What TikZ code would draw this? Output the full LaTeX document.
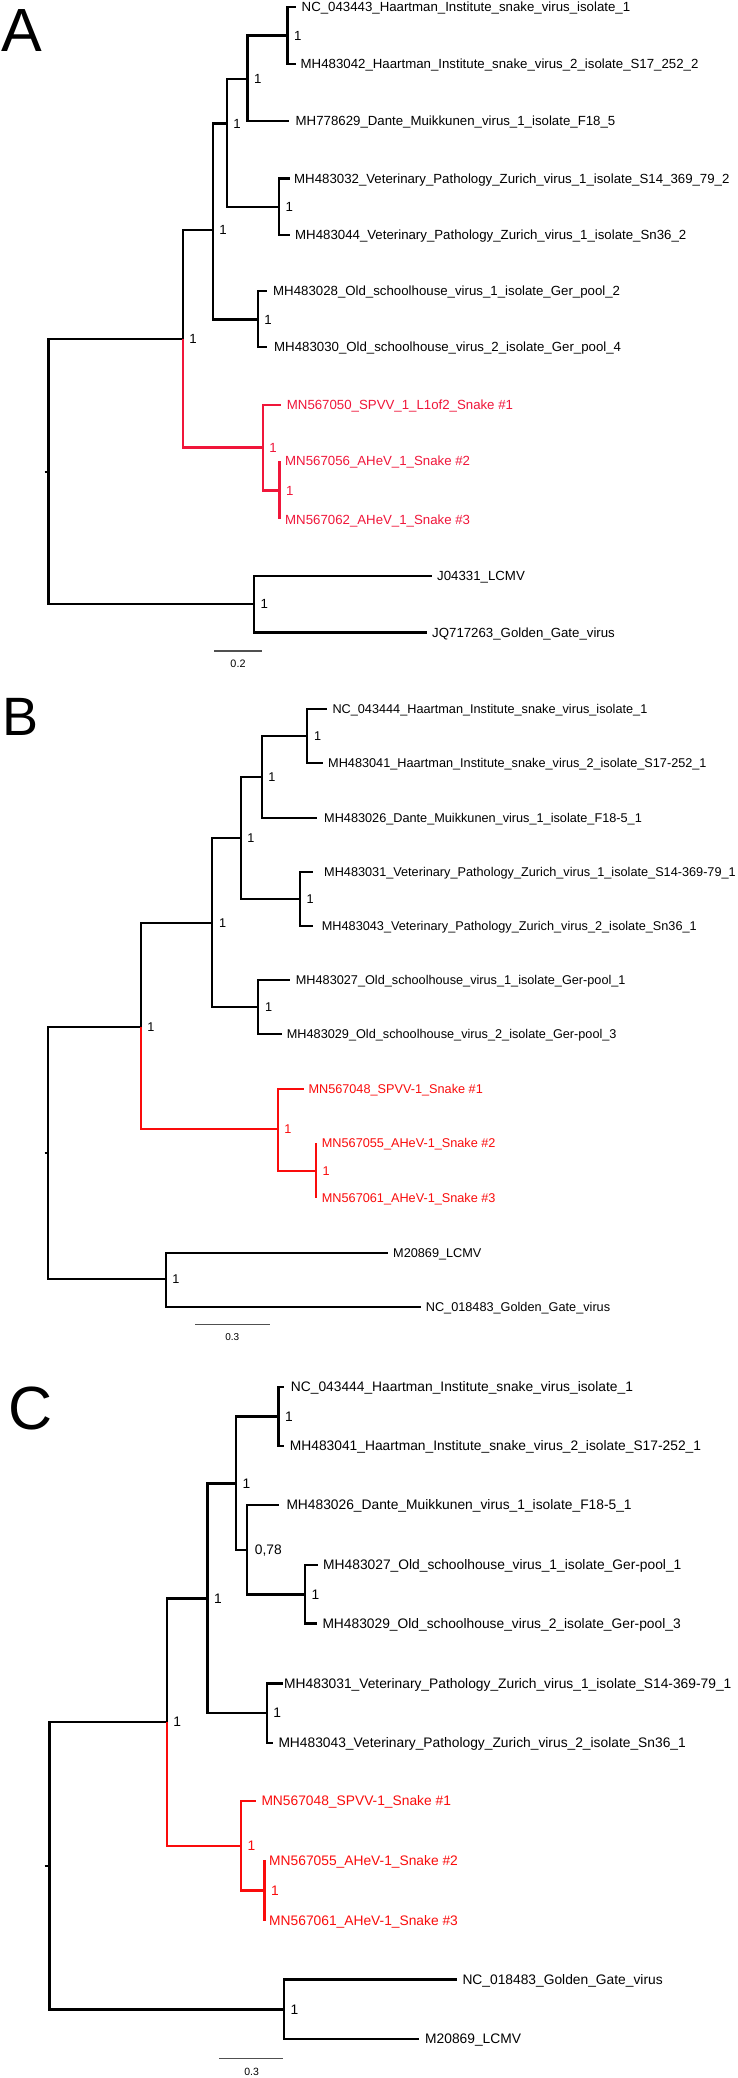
\documentclass[tikz,border=0pt]{standalone}
\usepackage{fontspec}
\setmainfont{Liberation Sans}
\definecolor{redA}{RGB}{240,22,58}
\definecolor{redBC}{RGB}{250,12,12}
\definecolor{sbar}{RGB}{80,80,80}
\tikzset{
  branch/.style={line width=2.4pt, line join=miter, line cap=butt},
  tiplab/.style={anchor=west, inner sep=0pt, text depth=0pt},
  suplab/.style={anchor=west, inner sep=0pt, text depth=0pt, xshift=6.5pt},
  letter/.style={anchor=base west, inner sep=0pt},
  sclab/.style={inner sep=0pt, text depth=0pt, text height=7.7pt},
  scbar/.style={line width=1.2pt, sbar}
}
\begin{document}
\begin{tikzpicture}[x=1pt,y=-1pt]
\fill[white] (0,0) rectangle (737,2078);
\useasboundingbox (0,0) rectangle (737,2078);

% ================= Panel A =================
\begin{scope}[every node/.append style={font=\fontsize{13.25}{16}\selectfont, text height=9.5pt}]
\node[letter, font=\fontsize{61}{61}\selectfont] (letA) at (1.5,51.7) {A};
\coordinate (aStub) at (44.5,471.7);
\coordinate (aRoot) at (48.3,471.7);
\coordinate (aIn) at (182.7,338.7);
\coordinate (aU) at (212.7,230);
\coordinate (aV) at (226.7,123.3);
\coordinate (aHD) at (247.3,79);
\coordinate (aH) at (287.3,35.5);
\coordinate (aVet) at (279,206.7);
\coordinate (aOld) at (257.7,319.3);
\coordinate (aRed) at (262.7,447.3);
\coordinate (aRed2) at (279.3,490.3);
\coordinate (aOut) at (254,604);
\coordinate (aT1) at (296,7);
\coordinate (aT2) at (296,64);
\coordinate (aT3) at (289,120.7);
\coordinate (aT4) at (290,178.3);
\coordinate (aT5) at (290,235);
\coordinate (aT6) at (266.7,291);
\coordinate (aT7) at (266.7,346.7);
\coordinate (aT8) at (281,405);
\coordinate (aT9) at (279.3,461);
\coordinate (aT10) at (279.3,519.3);
\coordinate (aT11) at (431.7,575.7);
\coordinate (aT12) at (426.7,632.3);
\draw[branch] (aStub) -- (aRoot);
\draw[branch] (aRoot) |- (aIn);
\draw[branch] (aRoot) |- (aOut);
\draw[branch] (aIn) |- (aU);
\draw[branch] (aU) |- (aV);
\draw[branch] (aU) |- (aOld);
\draw[branch] (aV) |- (aHD);
\draw[branch] (aV) |- (aVet);
\draw[branch] (aHD) |- (aH);
\draw[branch] (aHD) |- (aT3);
\draw[branch] (aH) |- (aT1);
\draw[branch] (aH) |- (aT2);
\draw[branch] (aVet) |- (aT4);
\draw[branch] (aVet) |- (aT5);
\draw[branch] (aOld) |- (aT6);
\draw[branch] (aOld) |- (aT7);
\draw[branch] (aOut) |- (aT11);
\draw[branch] (aOut) |- (aT12);
\begin{scope}[redA]
\draw[branch] (aIn) |- (aRed);
\draw[branch] (aRed) |- (aT8);
\draw[branch] (aRed) |- (aRed2);
\draw[branch] (aRed2) -- (aT9);
\draw[branch] (aRed2) -- (aT10);
\end{scope}
\node[tiplab] (aL1) at (301.5,7) {NC\_043443\_Haartman\_Institute\_snake\_virus\_isolate\_1};
\node[tiplab] (aL2) at (300.5,64) {MH483042\_Haartman\_Institute\_snake\_virus\_2\_isolate\_S17\_252\_2};
\node[tiplab] (aL3) at (295.5,120.7) {MH778629\_Dante\_Muikkunen\_virus\_1\_isolate\_F18\_5};
\node[tiplab] (aL4) at (294,178.3) {MH483032\_Veterinary\_Pathology\_Zurich\_virus\_1\_isolate\_S14\_369\_79\_2};
\node[tiplab] (aL5) at (295,235) {MH483044\_Veterinary\_Pathology\_Zurich\_virus\_1\_isolate\_Sn36\_2};
\node[tiplab] (aL6) at (273,291) {MH483028\_Old\_schoolhouse\_virus\_1\_isolate\_Ger\_pool\_2};
\node[tiplab] (aL7) at (274,346.7) {MH483030\_Old\_schoolhouse\_virus\_2\_isolate\_Ger\_pool\_4};
\node[tiplab, redA] (aL8) at (286.7,405) {MN567050\_SPVV\_1\_L1of2\_Snake \#1};
\node[tiplab, redA] (aL9) at (285,461) {MN567056\_AHeV\_1\_Snake \#2};
\node[tiplab, redA] (aL10) at (285,519.3) {MN567062\_AHeV\_1\_Snake \#3};
\node[tiplab] (aL11) at (437,575.7) {J04331\_LCMV};
\node[tiplab] (aL12) at (432,632.3) {JQ717263\_Golden\_Gate\_virus};
\node[suplab] (aSH) at (aH) {1};
\node[suplab] (aSHD) at (aHD) {1};
\node[suplab] (aSV) at (aV) {1};
\node[suplab] (aSVet) at (aVet) {1};
\node[suplab] (aSOld) at (aOld) {1};
\node[suplab] (aSU) at (aU) {1};
\node[suplab] (aSIn) at (aIn) {1};
\node[suplab, redA] (aSRed) at (aRed) {1};
\node[suplab, redA] (aSRed2) at (aRed2) {1};
\node[suplab] (aSOut) at (aOut) {1};
\coordinate (aSb1) at (214.3,651);
\coordinate (aSb2) at (262,651);
\draw[scbar] (aSb1) -- (aSb2);
\node[sclab, font=\fontsize{10.8}{12}\selectfont] (aSbL) at (238,663.8) {0.2};
\end{scope}

% ================= Panel B =================
\begin{scope}[branch/.style={line width=2.2pt, line join=miter, line cap=butt},
  every node/.append style={font=\fontsize{12.7}{15}\selectfont, text height=9.1pt}]
\node[letter, font=\fontsize{54}{54}\selectfont] (letB) at (2,735) {B};
\coordinate (bStub) at (44.5,1153.3);
\coordinate (bRoot) at (48,1153.3);
\coordinate (bIn) at (140.7,1026.7);
\coordinate (bU) at (212.3,922.7);
\coordinate (bV) at (240.7,837.7);
\coordinate (bHD) at (261.7,777.3);
\coordinate (bH) at (307.3,736);
\coordinate (bVet) at (300,899.3);
\coordinate (bOld) at (258.3,1007.3);
\coordinate (bRed) at (277.7,1129.3);
\coordinate (bRed2) at (316,1170.7);
\coordinate (bOut) at (165.7,1279.3);
\coordinate (bT1) at (327.3,709);
\coordinate (bT2) at (322.7,763.3);
\coordinate (bT3) at (316.7,817.7);
\coordinate (bT4) at (313.3,871.7);
\coordinate (bT5) at (312.7,926);
\coordinate (bT6) at (290,980);
\coordinate (bT7) at (281.7,1034.3);
\coordinate (bT8) at (304,1089.3);
\coordinate (bT9) at (316,1143.3);
\coordinate (bT10) at (316,1198.3);
\coordinate (bT11) at (387.7,1252.7);
\coordinate (bT12) at (420.7,1306.7);
\draw[branch] (bStub) -- (bRoot);
\draw[branch] (bRoot) |- (bIn);
\draw[branch] (bRoot) |- (bOut);
\draw[branch] (bIn) |- (bU);
\draw[branch] (bU) |- (bV);
\draw[branch] (bU) |- (bOld);
\draw[branch] (bV) |- (bHD);
\draw[branch] (bV) |- (bVet);
\draw[branch] (bHD) |- (bH);
\draw[branch] (bHD) |- (bT3);
\draw[branch] (bH) |- (bT1);
\draw[branch] (bH) |- (bT2);
\draw[branch] (bVet) |- (bT4);
\draw[branch] (bVet) |- (bT5);
\draw[branch] (bOld) |- (bT6);
\draw[branch] (bOld) |- (bT7);
\draw[branch] (bOut) |- (bT11);
\draw[branch] (bOut) |- (bT12);
\begin{scope}[redBC]
\draw[branch] (bIn) |- (bRed);
\draw[branch] (bRed) |- (bT8);
\draw[branch] (bRed) |- (bRed2);
\draw[branch] (bRed2) -- (bT9);
\draw[branch] (bRed2) -- (bT10);
\end{scope}
\node[tiplab] (bL1) at (332.3,709) {NC\_043444\_Haartman\_Institute\_snake\_virus\_isolate\_1};
\node[tiplab] (bL2) at (328,763.3) {MH483041\_Haartman\_Institute\_snake\_virus\_2\_isolate\_S17-252\_1};
\node[tiplab] (bL3) at (324,817.7) {MH483026\_Dante\_Muikkunen\_virus\_1\_isolate\_F18-5\_1};
\node[tiplab] (bL4) at (324,871.7) {MH483031\_Veterinary\_Pathology\_Zurich\_virus\_1\_isolate\_S14-369-79\_1};
\node[tiplab] (bL5) at (321.7,926) {MH483043\_Veterinary\_Pathology\_Zurich\_virus\_2\_isolate\_Sn36\_1};
\node[tiplab] (bL6) at (295.7,980) {MH483027\_Old\_schoolhouse\_virus\_1\_isolate\_Ger-pool\_1};
\node[tiplab] (bL7) at (286.7,1034.3) {MH483029\_Old\_schoolhouse\_virus\_2\_isolate\_Ger-pool\_3};
\node[tiplab, redBC] (bL8) at (308.3,1089.3) {MN567048\_SPVV-1\_Snake \#1};
\node[tiplab, redBC] (bL9) at (321.7,1143.3) {MN567055\_AHeV-1\_Snake \#2};
\node[tiplab, redBC] (bL10) at (321.7,1198.3) {MN567061\_AHeV-1\_Snake \#3};
\node[tiplab] (bL11) at (393,1252.7) {M20869\_LCMV};
\node[tiplab] (bL12) at (425.7,1306.7) {NC\_018483\_Golden\_Gate\_virus};
\node[suplab] (bSH) at (bH) {1};
\node[suplab] (bSHD) at (bHD) {1};
\node[suplab] (bSV) at (bV) {1};
\node[suplab] (bSVet) at (bVet) {1};
\node[suplab] (bSOld) at (bOld) {1};
\node[suplab] (bSU) at (bU) {1};
\node[suplab] (bSIn) at (bIn) {1};
\node[suplab, redBC] (bSRed) at (bRed) {1};
\node[suplab, redBC] (bSRed2) at (bRed2) {1};
\node[suplab] (bSOut) at (bOut) {1};
\coordinate (bSb1) at (195,1324.7);
\coordinate (bSb2) at (270,1324.7);
\draw[scbar] (bSb1) -- (bSb2);
\node[sclab, font=\fontsize{10}{12}\selectfont, text height=7.2pt] (bSbL) at (232.3,1336.7) {0.3};
\end{scope}

% ================= Panel C =================
\begin{scope}[every node/.append style={font=\fontsize{13.8}{16}\selectfont, text height=9.9pt}]
\node[letter, font=\fontsize{61}{61}\selectfont] (letC) at (8.5,1429.5) {C};
\coordinate (cStub) at (44.5,1865.7);
\coordinate (cRoot) at (49.3,1865.7);
\coordinate (cIn) at (166.7,1721.7);
\coordinate (cU) at (207.3,1598.3);
\coordinate (cP2) at (236,1483.3);
\coordinate (cH) at (278.3,1416.3);
\coordinate (cN78) at (246.7,1550);
\coordinate (cOld) at (305,1594.3);
\coordinate (cVet) at (266.7,1712.7);
\coordinate (cRed) at (241,1846);
\coordinate (cRed2) at (264.3,1890.5);
\coordinate (cOut) at (284,2009.3);
\coordinate (cT1) at (284.3,1386.7);
\coordinate (cT2) at (284.3,1446);
\coordinate (cT3) at (279.3,1505);
\coordinate (cT4) at (318.3,1565);
\coordinate (cT5) at (316.7,1623.3);
\coordinate (cT6) at (283.3,1683.3);
\coordinate (cT7) at (273.3,1742.7);
\coordinate (cT8) at (256,1801);
\coordinate (cT9) at (264.3,1860);
\coordinate (cT10) at (264.3,1920.7);
\coordinate (cT11) at (456.7,1979.3);
\coordinate (cT12) at (419.3,2039);
\draw[branch] (cStub) -- (cRoot);
\draw[branch] (cRoot) |- (cIn);
\draw[branch] (cRoot) |- (cOut);
\draw[branch] (cIn) |- (cU);
\draw[branch] (cU) |- (cP2);
\draw[branch] (cU) |- (cVet);
\draw[branch] (cP2) |- (cH);
\draw[branch] (cP2) |- (cN78);
\draw[branch] (cH) |- (cT1);
\draw[branch] (cH) |- (cT2);
\draw[branch] (cN78) |- (cT3);
\draw[branch] (cN78) |- (cOld);
\draw[branch] (cOld) |- (cT4);
\draw[branch] (cOld) |- (cT5);
\draw[branch] (cVet) |- (cT6);
\draw[branch] (cVet) |- (cT7);
\draw[branch] (cOut) |- (cT11);
\draw[branch] (cOut) |- (cT12);
\begin{scope}[redBC]
\draw[branch] (cIn) |- (cRed);
\draw[branch] (cRed) |- (cT8);
\draw[branch] (cRed) |- (cRed2);
\draw[branch] (cRed2) -- (cT9);
\draw[branch] (cRed2) -- (cT10);
\end{scope}
\node[tiplab] (cL1) at (290.7,1386.7) {NC\_043444\_Haartman\_Institute\_snake\_virus\_isolate\_1};
\node[tiplab] (cL2) at (289.7,1446) {MH483041\_Haartman\_Institute\_snake\_virus\_2\_isolate\_S17-252\_1};
\node[tiplab] (cL3) at (286.3,1505) {MH483026\_Dante\_Muikkunen\_virus\_1\_isolate\_F18-5\_1};
\node[tiplab] (cL4) at (323,1565) {MH483027\_Old\_schoolhouse\_virus\_1\_isolate\_Ger-pool\_1};
\node[tiplab] (cL5) at (322.3,1623.3) {MH483029\_Old\_schoolhouse\_virus\_2\_isolate\_Ger-pool\_3};
\node[tiplab] (cL6) at (284,1683.3) {MH483031\_Veterinary\_Pathology\_Zurich\_virus\_1\_isolate\_S14-369-79\_1};
\node[tiplab] (cL7) at (278.3,1742.7) {MH483043\_Veterinary\_Pathology\_Zurich\_virus\_2\_isolate\_Sn36\_1};
\node[tiplab, redBC] (cL8) at (261.3,1801) {MN567048\_SPVV-1\_Snake \#1};
\node[tiplab, redBC] (cL9) at (269,1861) {MN567055\_AHeV-1\_Snake \#2};
\node[tiplab, redBC] (cL10) at (269,1920.3) {MN567061\_AHeV-1\_Snake \#3};
\node[tiplab] (cL11) at (462.3,1979.3) {NC\_018483\_Golden\_Gate\_virus};
\node[tiplab] (cL12) at (425,2039) {M20869\_LCMV};
\node[suplab] (cSH) at (cH) {1};
\node[suplab] (cSP2) at (cP2) {1};
\node[suplab, xshift=1.5pt] (cS78) at (cN78) {0,78};
\node[suplab] (cSOld) at (cOld) {1};
\node[suplab] (cSVet) at (cVet) {1};
\node[suplab] (cSU) at (cU) {1};
\node[suplab] (cSIn) at (cIn) {1};
\node[suplab, redBC] (cSRed) at (cRed) {1};
\node[suplab, redBC] (cSRed2) at (cRed2) {1};
\node[suplab] (cSOut) at (cOut) {1};
\coordinate (cSb1) at (219.3,2058.3);
\coordinate (cSb2) at (283.3,2058.3);
\draw[scbar] (cSb1) -- (cSb2);
\node[sclab, font=\fontsize{10.5}{12}\selectfont, text height=7.5pt] (cSbL) at (251.7,2071.7) {0.3};
\end{scope}
\end{tikzpicture}
\end{document}
